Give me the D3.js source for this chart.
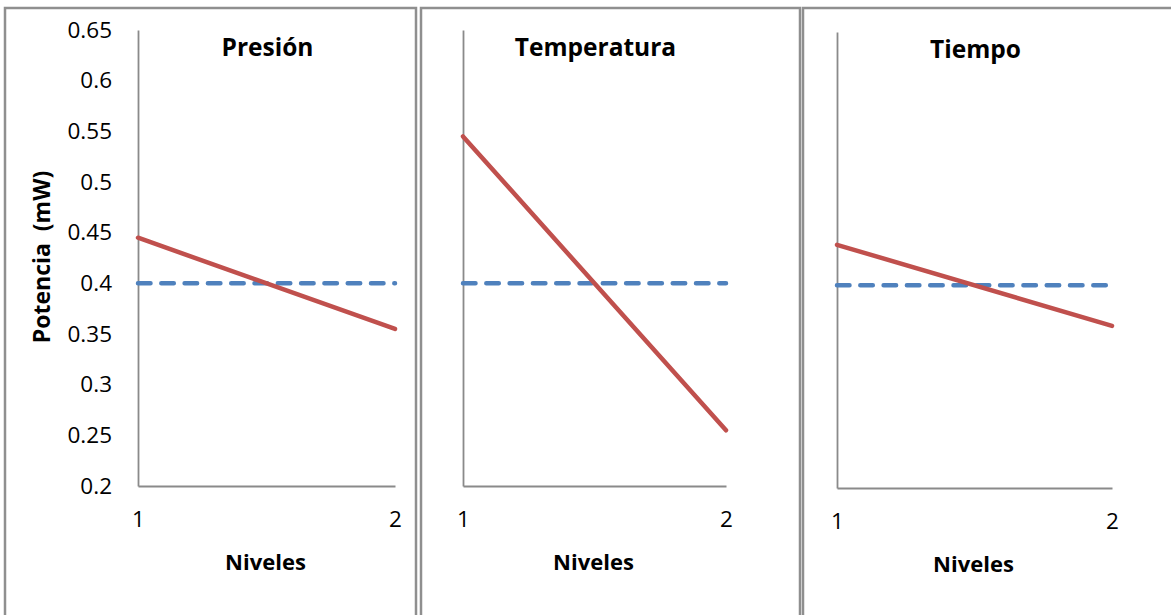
<!DOCTYPE html>
<html>
<head>
<meta charset="utf-8">
<script src="https://cdn.jsdelivr.net/npm/d3@7"></script>
<style>
  html, body { margin: 0; padding: 0; background: #ffffff; }
  svg { display: block; }
  text { font-family: "Open Sans", "Noto Sans", sans-serif; fill: #000; }
</style>
</head>
<body>
<svg id="chart" width="1171" height="615"></svg>
<script>
// Main effects of each factor on output power, at levels 1 and 2
const niveles = [1, 2];
const presion = [0.445, 0.355];
const temperatura = [0.545, 0.255];
const tiempo = [0.44, 0.36];
const mediaGeneral = [0.4, 0.4];   // overall mean, drawn dashed
const yTicks = [0.2, 0.25, 0.3, 0.35, 0.4, 0.45, 0.5, 0.55, 0.6, 0.65];
const titulos = ["Presión", "Temperatura", "Tiempo"];
const yTitulo = "Potencia  (mW)";
const xTitulo = "Niveles";

const series = [presion, temperatura, tiempo];

// Frame and plot-area geometry of the three side-by-side panels
const panels = [
  { frame: [5, 416],   plot: { left: 138, right: 395,  top: 30, bottom: 486 }, showY: true },
  { frame: [421, 800], plot: { left: 463, right: 726,  top: 30, bottom: 486 }, showY: false },
  { frame: [803, 1190], plot: { left: 837, right: 1112, top: 32, bottom: 488 }, showY: false }
];

const svg = d3.select("#chart");
svg.append("rect").attr("width", 1171).attr("height", 615).attr("fill", "#fff");

const axisColor = "#8a8a8a";
const red = "#C0504D";
const blue = "#4F81BD";
const tickFont = 22.5;

panels.forEach((p, i) => {
  const g = svg.append("g");

  // panel frame
  g.append("rect")
    .attr("x", p.frame[0]).attr("y", 8)
    .attr("width", p.frame[1] - p.frame[0]).attr("height", 640)
    .attr("fill", "none").attr("stroke", "#8f8f8f").attr("stroke-width", 2.5);

  const x = d3.scaleLinear().domain([1, 2]).range([p.plot.left, p.plot.right]);
  const y = d3.scaleLinear().domain([0.2, 0.65]).range([p.plot.bottom, p.plot.top]);

  // y axis
  const yAxis = d3.axisLeft(y).tickValues(yTicks).tickSize(0).tickPadding(26)
    .tickFormat(p.showY ? d3.format("") : () => "");
  const ya = g.append("g").attr("transform", `translate(${p.plot.left},0)`).call(yAxis);
  ya.select(".domain").attr("stroke", axisColor).attr("stroke-width", 1.8);
  ya.selectAll("text").attr("font-size", tickFont).attr("fill", "#000");

  // x axis
  const xAxis = d3.axisBottom(x).tickValues(niveles).tickSize(0).tickPadding(25).tickFormat(d3.format("d"));
  const xa = g.append("g").attr("transform", `translate(0,${p.plot.bottom})`).call(xAxis);
  xa.select(".domain").attr("stroke", axisColor).attr("stroke-width", 1.8);
  xa.selectAll("text").attr("font-size", tickFont).attr("fill", "#000");

  const line = d3.line().x((d, k) => x(niveles[k])).y(d => y(d));

  // overall mean (dashed)
  g.append("path").datum(mediaGeneral)
    .attr("d", line)
    .attr("fill", "none").attr("stroke", blue).attr("stroke-width", 4.5)
    .attr("stroke-linecap", "round").attr("stroke-dasharray", "12.5,10.8");

  // factor effect
  g.append("path").datum(series[i])
    .attr("d", line)
    .attr("fill", "none").attr("stroke", red).attr("stroke-width", 4.5)
    .attr("stroke-linecap", "round");

  // panel title
  g.append("text")
    .attr("x", (p.plot.left + p.plot.right) / 2 + 1)
    .attr("y", p.plot.top + 26)
    .attr("text-anchor", "middle")
    .attr("font-size", 24.5).attr("font-weight", "bold")
    .text(titulos[i]);

  // x axis title
  g.append("text")
    .attr("x", (p.plot.left + p.plot.right) / 2 - 1)
    .attr("y", p.plot.bottom + 84)
    .attr("text-anchor", "middle")
    .attr("font-size", 22).attr("font-weight", "bold")
    .text(xTitulo);
});

// y axis title (first panel only)
svg.append("text")
  .attr("transform", "translate(50,257) rotate(-90)")
  .attr("text-anchor", "middle")
  .attr("font-size", 23).attr("font-weight", "bold")
  .style("white-space", "pre")
  .text(yTitulo);
</script>
</body>
</html>
